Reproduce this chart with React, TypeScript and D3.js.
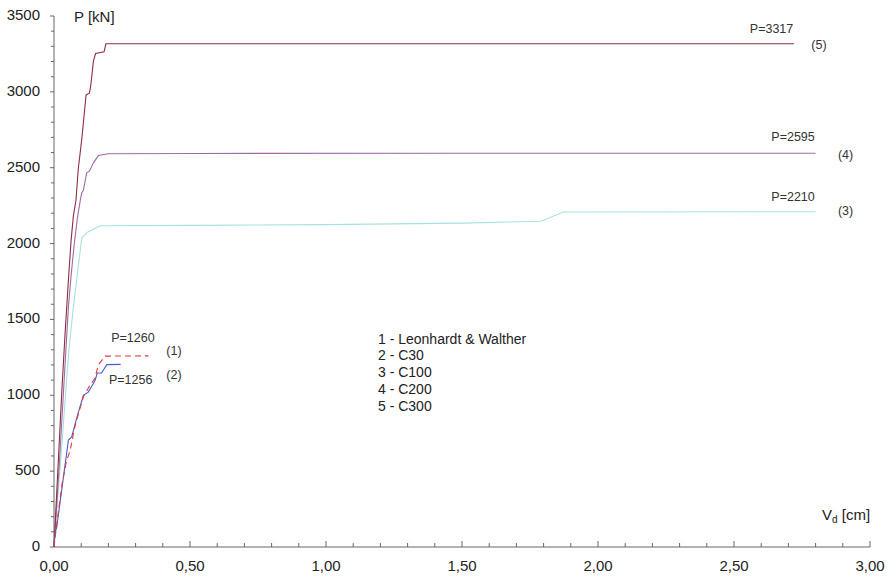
import * as d3 from "d3";

// load-displacement curves, P [kN] vs V_d [cm]
const lwX = [0, 0.01, 0.03, 0.045, 0.06, 0.075, 0.09, 0.108, 0.13, 0.15, 0.163, 0.1875, 0.347];
const lwP = [0, 150, 420, 560, 640, 780, 880, 990, 1060, 1110, 1200, 1258, 1260];

const c30X = [0, 0.004, 0.01, 0.053, 0.065, 0.085, 0.108, 0.126, 0.151, 0.159, 0.175, 0.194, 0.245];
const c30P = [0, 95, 130, 705, 725, 860, 1000, 1021, 1098, 1147, 1147, 1202, 1204];

const c100X = [0, 0.03, 0.047, 0.055, 0.07, 0.09, 0.102, 0.123, 0.17, 0.5, 1.0, 1.5, 1.79, 1.873, 2.8];
const c100P = [0, 700, 1120, 1300, 1560, 1860, 2036, 2075, 2117, 2120, 2125, 2135, 2147, 2208, 2210];

const c200X = [0, 0.02, 0.047, 0.053, 0.0625, 0.074, 0.086, 0.098, 0.102, 0.108, 0.12, 0.13, 0.145, 0.163, 0.2, 0.5, 1.5, 2.8];
const c200P = [0, 560, 1400, 1583, 1782, 1991, 2168, 2300, 2334, 2351, 2466, 2477, 2532, 2580, 2592, 2594, 2595, 2595];

const c300X = [0, 0.028, 0.04, 0.053, 0.0625, 0.071, 0.081, 0.089, 0.102, 0.118, 0.13, 0.135, 0.145, 0.153, 0.184, 0.191, 2.72];
const c300P = [0, 1000, 1385, 1760, 2013, 2179, 2289, 2488, 2686, 2980, 2991, 3039, 3204, 3253, 3264, 3317, 3317];

const legendLines = ["1 - Leonhardt & Walther", "2 - C30", "3 - C100", "4 - C200", "5 - C300"];

const peakLabels = ["P=3317", "P=2595", "P=2210", "P=1260", "P=1256"];
const peakLabelX = [2.638, 2.717, 2.717, 0.29, 0.282];
const peakLabelP = [3408, 2696, 2300, 1371, 1094];

const curveTags = ["(5)", "(4)", "(3)", "(1)", "(2)"];
const curveTagX = [2.8125, 2.91, 2.91, 0.441, 0.441];
const curveTagP = [3302, 2577, 2208, 1285, 1127];

const width = 887;
const height = 576;
const font = "'Liberation Sans', Arial, sans-serif";

const locale = d3.formatLocale({ decimal: ",", thousands: ".", grouping: [3], currency: ["", ""] });
const fmtX = locale.format(".2f");

export default function App() {
     const x = d3.scaleLinear().domain([0, 3]).range([54, 870]);
     const y = d3.scaleLinear().domain([0, 3500]).range([547, 16]);

     const line = d3.line<[number, number]>()
          .x((d) => x(d[0]))
          .y((d) => y(d[1]));

     const zip = (xs: number[], ps: number[]) => xs.map((v, i) => [v, ps[i]] as [number, number]);

     const series = [
          { pts: zip(c100X, c100P), color: "#a6e3de", dash: "" },
          { pts: zip(c200X, c200P), color: "#a06aa8", dash: "" },
          { pts: zip(c300X, c300P), color: "#8e2f3e", dash: "" },
          { pts: zip(c30X, c30P), color: "#4c5bc9", dash: "" },
          { pts: zip(lwX, lwP), color: "#e2393c", dash: "6,4" },
     ];

     const xMinor = d3.range(0, 3.0001, 0.1);
     const yMinor = d3.range(0, 3501, 100);

     return (
          <svg width={width} height={height} style={{ position: "absolute", left: 0, top: 0, background: "#fff" }}>
               {/* axes */}
               <line x1={x(0)} x2={x(0)} y1={y(0)} y2={y(3500)} stroke="#666" strokeWidth={1} />
               <line x1={x(0)} x2={x(3)} y1={y(0)} y2={y(0)} stroke="#666" strokeWidth={1} />
               {yMinor.map((v) => {
                    const major = v % 500 === 0;
                    return <line key={"yt" + v} x1={x(0) - (major ? 4 : 3)} x2={x(0)} y1={y(v)} y2={y(v)} stroke="#666" />;
               })}
               {xMinor.map((v, i) => {
                    const major = i % 5 === 0;
                    return <line key={"xt" + i} x1={x(v)} x2={x(v)} y1={y(0)} y2={y(0) - (major ? 6 : 4)} stroke="#666" />;
               })}
               {y.ticks(7).map((v) => (
                    <text key={"yl" + v} x={40} y={y(v)} textAnchor="end" dominantBaseline="middle" fontFamily={font} fontSize={15} fill="#222">
                         {v}
                    </text>
               ))}
               {d3.range(0, 3.0001, 0.5).map((v) => (
                    <text key={"xl" + v} x={x(v)} y={567} textAnchor="middle" dominantBaseline="middle" fontFamily={font} fontSize={15} fill="#222">
                         {fmtX(v)}
                    </text>
               ))}
               <text x={74} y={18} dominantBaseline="middle" fontFamily={font} fontSize={15} fill="#222">P [kN]</text>
               <text x={822} y={520} fontFamily={font} fontSize={15} fill="#222">
                    V<tspan fontSize={10} dy={3}>d</tspan><tspan dy={-3}> [cm]</tspan>
               </text>

               {/* curves */}
               {series.map((s, i) => (
                    <path key={"s" + i} d={line(s.pts) || ""} fill="none" stroke={s.color} strokeWidth={1.1} strokeDasharray={s.dash} />
               ))}

               {peakLabels.map((t, i) => (
                    <text key={"pl" + i} x={x(peakLabelX[i])} y={y(peakLabelP[i])} textAnchor="middle" dominantBaseline="middle" fontFamily={font} fontSize={12.5} fill="#333">
                         {t}
                    </text>
               ))}
               {curveTags.map((t, i) => (
                    <text key={"ct" + i} x={x(curveTagX[i])} y={y(curveTagP[i])} textAnchor="middle" dominantBaseline="middle" fontFamily={font} fontSize={12.5} fill="#333">
                         {t}
                    </text>
               ))}

               {/* legend */}
               {legendLines.map((t, i) => (
                    <text key={"lg" + i} x={378} y={340 + i * 16.7} dominantBaseline="middle" fontFamily={font} fontSize={14} fill="#222">
                         {t}
                    </text>
               ))}
          </svg>
     );
}
